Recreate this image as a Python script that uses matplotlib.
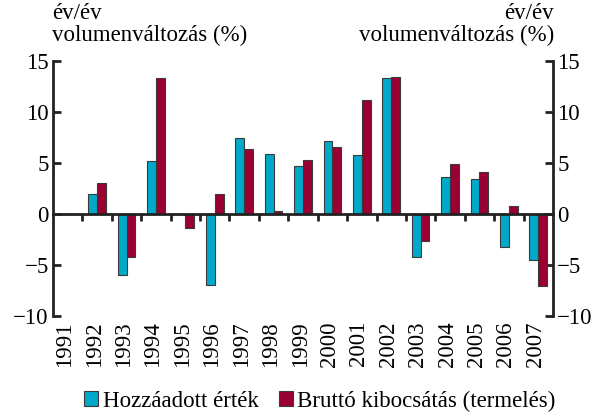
import numpy as np
import matplotlib.pyplot as plt
import matplotlib.transforms as mtransforms

# --------------------------------------------------------------
# Data
# --------------------------------------------------------------
years = [str(y) for y in range(1991, 2008)]
hozzaadott = [0, 2.0, -6.0, 5.2, 0, -7.0, 7.45, 5.9, 4.7, 7.15, 5.8, 13.3, -4.25, 3.65, 3.45, -3.2, -4.55]
brutto = [0, 3.05, -4.25, 13.3, -1.35, 2.0, 6.35, 0.3, 5.3, 6.6, 11.2, 13.45, -2.6, 4.95, 4.15, 0.8, -7.1]

blue = "#00a9c9"
red = "#9a0032"
edge = "#3a3a3a"

plt.rcParams["font.family"] = ["Liberation Serif", "DejaVu Serif"]
plt.rcParams["font.size"] = 16.5

# --------------------------------------------------------------
# Plot
# --------------------------------------------------------------
fig = plt.figure(figsize=(5.94, 4.16), dpi=100)
ax = fig.add_axes([53 / 594, 100 / 416, 500 / 594, 255 / 416])

x = np.arange(len(years))
w = 0.3
ax.bar(x - w / 2, hozzaadott, w, color=blue, edgecolor=edge, linewidth=0.8, label="Hozzáadott érték", zorder=2)
ax.bar(x + w / 2, brutto, w, color=red, edgecolor=edge, linewidth=0.8, label="Bruttó kibocsátás (termelés)", zorder=2)

ax.set_xlim(-0.5, len(years) - 0.5)
ax.set_ylim(-10, 15)
ax.set_yticks([-10, -5, 0, 5, 10, 15])
ax.set_yticklabels(["\u221210", "\u22125", "0", "5", "10", "15"])

ax.spines["top"].set_visible(False)
ax.spines["bottom"].set_position(("data", 0))
ax.spines["bottom"].set_linewidth(2)
ax.spines["bottom"].set_color("#222222")
for s in ["left", "right"]:
    ax.spines[s].set_linewidth(2)
    ax.spines[s].set_color("#222222")

ax.tick_params(axis="y", direction="in", length=6, width=2, color="#222222",
               left=True, right=True, labelleft=True, labelright=True, pad=3)
ax.set_xticks(np.arange(len(years) - 1) + 0.5)
ax.set_xticklabels([])
ax.tick_params(axis="x", direction="out", length=5, width=2, color="#222222")

# year labels below the plot area
trans = mtransforms.blended_transform_factory(ax.transData, ax.transAxes)
for i, yr in enumerate(years):
    ax.text(i - 0.1, -0.02, yr, rotation=90, ha="center", va="top", transform=trans)

fig.text(52 / 594, 1 - 3 / 416, "év/év\nvolumenváltozás (%)", ha="left", va="top", linespacing=1.05)
fig.text(554 / 594, 1 - 3 / 416, "év/év\nvolumenváltozás (%)", ha="right", va="top", linespacing=1.05, multialignment="right")

fig.legend(loc="center", bbox_to_anchor=(320 / 594, 1 - 401 / 416), ncol=2, frameon=False,
           handlelength=0.6, handleheight=0.6, handletextpad=0.2, columnspacing=0.9)

fig.savefig("out.png", dpi=100)
